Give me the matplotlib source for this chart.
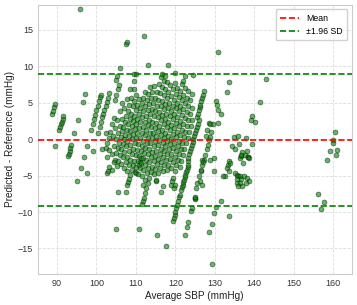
import matplotlib
matplotlib.use("Agg")
import matplotlib.pyplot as plt
import numpy as np

# Streaks: reference SBP value -> list of (predicted - reference) differences
streak_refs = [87, 90, 94, 98, 100, 101, 102, 103, 104, 105, 106, 107, 108, 109,
               110, 111, 112, 112.5, 113, 114, 115, 116, 117, 118, 119, 120, 121,
               122, 123, 124, 124.6, 125, 127.5, 128.6, 129, 135]
streak_diffs = [
    [3.4, 3.9, 4.4, 4.8, 17.8],
    [-1.0, 1.2, 1.6, 2.0, 2.4, 2.8, 3.1],
    [-2.3, -2.0, -1.6, -1.2, -0.8, 0.8, 2.6, 5.1, 6.2],
    [-5.8, -3.9, -2.4, -1.0, 1.3, 2.0, 2.7, 3.3, 4.0, 4.6, 5.2, 5.8, 6.1],
    [-4.6, -1.7, 0.8, 1.7, 2.4, 3.0, 3.5, 4.0, 4.6, 5.1, 5.7, 6.3],
    [8.1, 8.6, 9.8, 13.0, 13.3],
    [-1.3, 0.9, 5.4, 6.1, 6.8, 7.4],
    [-1.2, -0.6, 0.2, 1.0, 2.1, 2.9],
    [-2.5, -1.5, 0.4, 1.5, 2.6, 3.9, 5.0],
    [-4.6, -4.4, -3.8, -2.1, -1.0, 0.0, 0.9, 1.8, 2.7, 4.2, 5.5, 6.8, 14.2],
    [-4.2, -3.1, -2.8, -1.9, -1.2, -0.5, 0.3, 1.05, 1.7, 2.4, 3.1, 3.8, 4.7, 5.6, 6.8],
    [-3.7, -3.0, -2.2, -1.4, -0.7, 0.0, 0.6, 1.3, 2.0, 2.8, 3.5, 4.5, 5.2, 6.1],
    [-3.4, -2.5, -1.8, -1.0, -0.3, 0.4, 1.1, 1.8, 2.5, 3.2, 4.0, 4.7, 5.5, 10.2],
    [-7.2, -4.0, -3.2, -2.4, -1.6, -0.8, 0.0, 0.7, 1.4, 2.0, 2.7, 3.4, 4.2, 4.9, 5.6, 6.5],
    [-4.4, -3.6, -2.8, -2.0, -1.3, -0.6, 0.2, 0.8, 1.5, 2.3, 3.0, 3.8, 4.6, 5.4, 6.2, 7.2],
    [-12.3, -7.2, -6.3, -5.9, -5.5, -4.9, -4.2, -3.6, -3.0, -2.2, -1.5, -0.7, 0.1,
     0.9, 1.6, 2.4, 3.2, 4.0, 4.8, 5.6, 6.4, 7.3],
    [-4.5, -3.8, -3.0, -2.3, -1.6, -0.9, -0.2, 0.5, 1.2, 1.9, 2.6, 3.4, 4.1, 4.9,
     5.7, 6.5, 7.5, 8.5],
    [-4.7, -3.5, -3.1, -2.6],
    [-4.8, -4.0, -3.3, -2.6, -1.9, -1.2, -0.5, 0.2, 0.9, 1.6, 2.3, 3.1, 3.9, 4.6,
     5.4, 6.3, 7.2, 8.0, 8.6, 10.1],
    [-5.0, -4.2, -3.5, -2.8, -2.0, -1.3, -0.6, 0.1, 0.8, 1.5, 2.2, 3.0, 3.7, 4.5,
     5.2, 6.0, 6.9, 7.8],
    [-6.3, -5.6, -4.6, -3.9, -3.2, -2.5, -1.8, -1.0, -0.3, 0.4, 1.1, 1.8, 2.6, 3.3,
     4.1, 4.8, 5.6, 6.4, 7.4],
    [-8.9, -8.5, -8.1, -7.4, -6.7, -6.0, -5.3, -4.5, -3.8, -3.0, -2.3, -1.6, -0.8,
     -0.1, 0.6, 1.3, 2.0, 2.8, 3.5, 4.3, 5.0, 5.9, 6.8, 7.7],
    [-12.3, -4.8, -4.1, -3.4, -2.7, -2.0, -1.3, -0.5, 0.2, 0.9, 1.6, 2.4, 3.1, 3.9,
     4.6, 5.4, 6.2, 7.0],
    [-5.8, -5.6, -4.7, -3.9, -3.2, -2.4, -1.7, -1.0, -0.3, 0.4, 1.2, 1.9, 2.7, 3.4,
     4.2, 5.0, 5.8, 6.6, 7.5, 8.0, 8.7],
    [-4.4, -3.6, -2.9, -2.1, -1.4, -0.7, 0.0, 0.7, 1.5, 2.2, 3.0, 3.8, 4.5, 5.3,
     6.1, 7.0],
    [-7.2, -6.5, -4.3, -3.5, -2.7, -2.0, -1.2, -0.5, 0.3, 1.0, 1.8, 2.5, 3.3, 4.1,
     4.9, 5.7, 6.6],
    [-4.0, -3.2, -2.4, -1.7, -0.9, -0.2, 0.6, 1.3, 2.1, 2.9, 3.7, 4.5, 5.4, 6.2],
    [-13.1, -6.3, -5.8, -5.3, -4.4, -3.6, -2.8, -2.0, -1.3, -0.5, 0.3, 1.0, 1.8,
     2.6, 3.4, 4.3],
    [-6.7, -6.3, -3.8, -3.0, -2.2, -1.4, -0.6, 0.2, 1.0, 1.8, 2.6],
    [3.0, 3.4, 4.0, 4.4, 4.7, 5.2, 5.6, 6.1, 6.6],
    [-3.0, -2.6, -2.1, -1.7, -1.2, -0.8, -0.4, 0.0, 0.4, 0.8, 1.2, 1.7, 2.1, 2.6],
    [-14.6, -11.3, -10.8, -10.4, -10.0, -9.5, -9.0, -8.5, -8.0, -7.6, -7.0, -6.6,
     -6.3, -5.9, -5.6, -5.2, -4.9, -4.5, -4.2, -3.8, -3.5],
    [0.4, 1.3, 2.2],
    [-6.7, -6.0, -5.0, -4.4, -4.2, -3.5, -2.8, -2.2, -1.4, -0.8, -0.1, 0.35, 0.95, 2.05],
    [-13.1, -12.1, -11.4, -9.9, -9.5, -8.2, -8.1, -7.9],
    [-12.8, -11.6, -10.2, -9.3],
]

# Scattered points read directly as (average SBP, difference)
loose_avg = [109.4, 110.1, 109.4, 116.6, 119.8, 124.6, 130.3, 130.5, 130.9, 131.6,
             130.9, 128.8, 130.8, 133.7, 133.1, 143.0, 141.4, 139.4, 139.2, 140.1,
             134.75, 136.0, 137.9, 134.3, 135.2, 136.2, 138.1, 137.7, 138.5, 139.4,
             136.9, 136.6, 133.5, 133.3, 133.9, 133.1, 133.7, 132.5, 132.2,
             135.2, 135.6, 136.0, 136.45, 135.6, 136.6, 135.6, 136.45, 136.0, 136.9,
             137.3, 138.1, 138.6, 138.0, 136.45, 136.7, 137.1, 138.3, 138.7,
             126.7, 127.0, 128.8, 129.7, 129.7, 126.3, 126.7, 131.6, 133.65, 129.3,
             156.2, 157.6, 157.0, 158.4, 159.1, 160.8, 160.4, 159.9, 159.9, 161.0]
loose_diff = [8.95, 8.9, 7.9, 8.9, 9.0, 8.8, 5.2, 4.7, 4.0, 3.4,
              2.2, 2.1, 11.9, 7.8, 6.4, 8.2, 5.1, 3.2, 2.55, 2.3,
              0.35, 0.4, 0.2, -1.0, -1.3, -0.7, -1.7, -2.15, -2.4, -0.7,
              -1.8, -2.3, -3.0, -3.5, -3.3, -4.0, -4.4, -5.1, -5.0,
              -4.7, -4.9, -5.1, -5.0, -5.5, -5.5, -6.05, -6.05, -6.5, -6.5,
              -5.1, -5.4, -5.8, -6.05, -2.6, -2.15, -3.3, -2.4, -2.6,
              -2.8, -3.1, -2.8, -2.6, -4.4, -5.8, -6.3, -8.5, -10.5, -17.1,
              -7.55, -8.6, -9.6, -2.8, -1.6, -2.2, 1.0, -0.1, -0.55, -1.5]

mean_diff = -0.1
sd_diff = 4.6

reference = np.concatenate([np.full(len(d), r, dtype=float) for r, d in zip(streak_refs, streak_diffs)])
diffs = np.concatenate([np.asarray(d, dtype=float) for d in streak_diffs])
predicted = reference + diffs
avg = np.concatenate([(predicted + reference) / 2.0, loose_avg])
diff = np.concatenate([predicted - reference, loose_diff])

plt.rcParams['font.family'] = ['Liberation Sans', 'DejaVu Sans']
fig = plt.figure(figsize=(3.57, 3.05), dpi=100)
ax = fig.add_axes([0.1056, 0.1016, 0.8794, 0.8824])

ax.scatter(avg, diff, s=13, c='green', alpha=0.6, edgecolors='black',
           linewidths=0.4, zorder=3)
ax.axhline(mean_diff, color='red', linestyle='--', linewidth=1.2, label='Mean', zorder=4)
ax.axhline(mean_diff + 1.96 * sd_diff, color='green', linestyle='--', linewidth=1.2,
           label='±1.96 SD', zorder=4)
ax.axhline(mean_diff - 1.96 * sd_diff, color='green', linestyle='--', linewidth=1.2,
           zorder=4)

ax.set_xlim(85.1, 164.7)
ax.set_ylim(-18.5, 18.4)
ax.set_xticks([90, 100, 110, 120, 130, 140, 150, 160])
ax.set_yticks([-15, -10, -5, 0, 5, 10, 15])
ax.grid(True, linestyle='--', color='#dddddd', linewidth=0.6, zorder=0)
ax.set_axisbelow(True)
for sp in ax.spines.values():
    sp.set_color('#cccccc')
    sp.set_linewidth(0.8)
ax.tick_params(axis='both', labelsize=6.5, colors='#333333', length=0, pad=3.5)
ax.set_xlabel('Average SBP (mmHg)', fontsize=7.2, color='#222222', labelpad=2)
ax.set_ylabel('Predicted - Reference (mmHg)', fontsize=7.2, color='#222222', labelpad=2)
leg = ax.legend(loc='upper right', fontsize=6.3, frameon=True, framealpha=0.9,
                edgecolor='#cccccc', handlelength=2.2, borderpad=0.5)
fig.savefig('out.png', dpi=100)
